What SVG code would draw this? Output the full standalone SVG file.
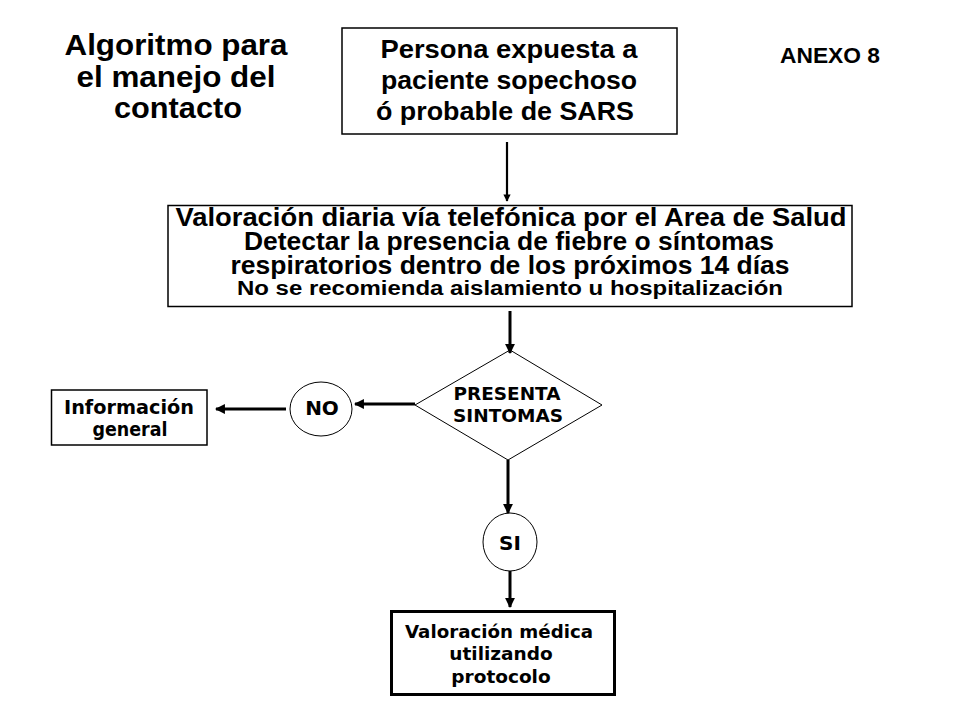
<svg xmlns="http://www.w3.org/2000/svg" width="960" height="720" viewBox="0 0 960 720">
<style>
.a{font-family:"Liberation Sans",Arial,sans-serif;font-weight:bold;fill:#000;text-anchor:middle}
.v{font-family:"DejaVu Sans",Verdana,sans-serif;font-weight:bold;fill:#000;text-anchor:middle}
.box{fill:#fff;stroke:#000;stroke-width:1.5}
.thick{fill:#fff;stroke:#000;stroke-width:3}
.thin{fill:#fff;stroke:#000;stroke-width:1}
.c{stroke:#000;stroke-width:3;fill:none;marker-end:url(#ah)}
</style>
<defs>
<marker id="ah" viewBox="0 0 10 10" refX="9" refY="5" markerWidth="3.3" markerHeight="3.3" orient="auto" markerUnits="strokeWidth">
<path d="M0,0 L10,5 L0,10 z" fill="#000"/>
</marker>
</defs>
<rect width="960" height="720" fill="#fff"/>
<g id="title">
<text class="a" x="176" y="55" font-size="30" textLength="223" lengthAdjust="spacingAndGlyphs">Algoritmo para</text>
<text class="a" x="176" y="87" font-size="30" textLength="199" lengthAdjust="spacingAndGlyphs">el manejo del</text>
<text class="a" x="178" y="118" font-size="30" textLength="128" lengthAdjust="spacingAndGlyphs">contacto</text>
</g>
<g id="anexo">
<text class="a" x="830" y="63" font-size="22" textLength="100" lengthAdjust="spacingAndGlyphs">ANEXO 8</text>
</g>
<g id="n1">
<rect class="box" x="342" y="28" width="335" height="106"/>
<text class="a" x="509" y="58" font-size="25" textLength="257" lengthAdjust="spacingAndGlyphs">Persona expuesta a</text>
<text class="a" x="509" y="89" font-size="25" textLength="256" lengthAdjust="spacingAndGlyphs">paciente sopechoso</text>
<text class="a" x="505" y="120" font-size="25" textLength="258" lengthAdjust="spacingAndGlyphs">ó probable de SARS</text>
</g>
<g id="n2">
<rect class="box" x="168" y="205.5" width="684" height="101"/>
<text class="a" x="511" y="226" font-size="25" textLength="671" lengthAdjust="spacingAndGlyphs">Valoración diaria vía telefónica por el Area de Salud</text>
<text class="a" x="509" y="250" font-size="25" textLength="530" lengthAdjust="spacingAndGlyphs">Detectar la presencia de fiebre o síntomas</text>
<text class="a" x="510" y="274" font-size="25" textLength="559" lengthAdjust="spacingAndGlyphs">respiratorios dentro de los próximos 14 días</text>
<text class="a" x="510" y="295" font-size="20" textLength="546" lengthAdjust="spacingAndGlyphs">No se recomienda aislamiento u hospitalización</text>
</g>
<g id="n3">
<polygon class="thin" points="510,350 602,405 508,460 415,405"/>
<text class="v" x="507" y="400" font-size="17.5" textLength="107" lengthAdjust="spacingAndGlyphs">PRESENTA</text>
<text class="v" x="508" y="422" font-size="17.5" textLength="110" lengthAdjust="spacingAndGlyphs">SINTOMAS</text>
</g>
<g id="n4">
<ellipse class="thin" cx="321" cy="409" rx="31" ry="27"/>
<text class="v" x="322" y="415" font-size="20">NO</text>
</g>
<g id="n5">
<rect class="box" x="51.5" y="390" width="155.5" height="55"/>
<text class="v" x="129" y="414" font-size="19" textLength="130" lengthAdjust="spacingAndGlyphs">Información</text>
<text class="v" x="130" y="436" font-size="19" textLength="75" lengthAdjust="spacingAndGlyphs">general</text>
</g>
<g id="n6">
<ellipse class="thin" cx="510" cy="542" rx="27" ry="29"/>
<text class="v" x="510" y="550" font-size="20">SI</text>
</g>
<g id="n7">
<rect class="thick" x="391.5" y="611.5" width="223" height="83"/>
<text class="v" x="499" y="638" font-size="18.5" textLength="188" lengthAdjust="spacingAndGlyphs">Valoración médica</text>
<text class="v" x="501" y="660" font-size="18.5">utilizando</text>
<text class="v" x="501" y="683" font-size="18.5">protocolo</text>
</g>
<g id="connectors">
<path class="c" d="M507,142 V201" style="stroke-width:2.2"/>
<path class="c" d="M510,311 V353"/>
<path class="c" d="M415,404 H355"/>
<path class="c" d="M286,409 H216"/>
<path class="c" d="M508,460 V513"/>
<path class="c" d="M510,571 V607"/>
</g>
</svg>
